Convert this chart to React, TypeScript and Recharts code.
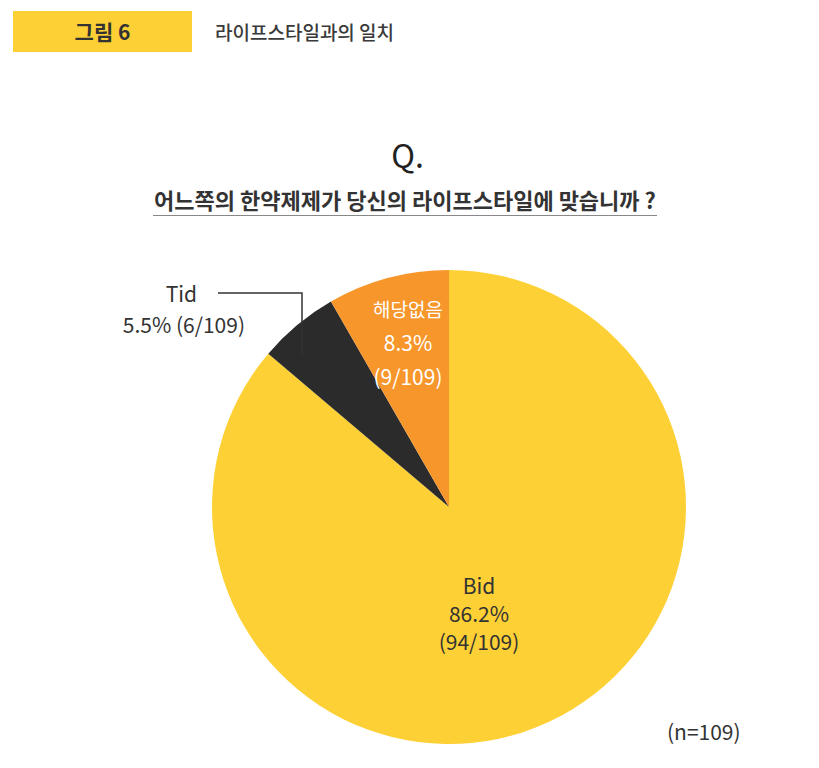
import { PieChart, Pie, Cell } from "recharts";

const categories = ["Bid", "Tid", "해당없음"];
const percents = [86.2, 5.5, 8.3];
const counts = [94, 6, 9];
const total = 109;
const colors = ["#FDD035", "#2B2B2B", "#F7962B"];

const data = categories.map((name, i) => ({
  name,
  value: percents[i],
  count: counts[i],
}));

const FONT = "'Noto Sans CJK KR', 'Noto Sans', sans-serif";
const LABEL_SIZE = 21;

// offsets of each label block relative to pie centre
const labelPos: Record<string, { dx: number; dy: number; fill: string; gap: number; nameSize: number }> = {
  Bid: { dx: 30, dy: 78, fill: "#333", gap: 28, nameSize: 21 },
  해당없음: { dx: -41, dy: -199, fill: "#fff", gap: 34, nameSize: 19 },
};

function renderLabel(props: any) {
  const { cx, cy, name, value, payload } = props;
  const count = payload?.count ?? payload?.payload?.count;
  if (name === "Tid") {
    return (
      <g>
        <polyline
          points={`${cx - 231},${cy - 214} ${cx - 147},${cy - 214} ${cx - 147},${cy - 152}`}
          fill="none"
          stroke="#333"
          strokeWidth={1.5}
        />
        <text x={cx - 252} y={cy - 214} textAnchor="end" dominantBaseline="central" fill="#333" fontSize={LABEL_SIZE} fontFamily={FONT}>
          {name}
        </text>
        <text x={cx - 204} y={cy - 183} textAnchor="end" dominantBaseline="central" fill="#333" fontSize={LABEL_SIZE} fontFamily={FONT}>
          {`${value}% (${count}/${total})`}
        </text>
      </g>
    );
  }
  const p = labelPos[name];
  const x = cx + p.dx;
  const y = cy + p.dy;
  return (
    <text x={x} y={y} textAnchor="middle" fill={p.fill} fontSize={LABEL_SIZE} fontFamily={FONT} dominantBaseline="central">
      <tspan x={x} dy={0} fontSize={p.nameSize}>{name}</tspan>
      <tspan x={x} dy={p.gap}>{`${value}%`}</tspan>
      <tspan x={x} dy={p.gap}>{`(${count}/${total})`}</tspan>
    </text>
  );
}

export default function App() {
  return (
    <div
      style={{
        position: "absolute",
        top: 0,
        left: 0,
        width: 819,
        height: 768,
        background: "#fff",
        fontFamily: FONT,
        overflow: "hidden",
      }}
    >
      <div
        style={{
          position: "absolute",
          left: 13,
          top: 11,
          width: 179,
          height: 41,
          background: "#FDD035",
          color: "#333",
          fontWeight: 700,
          fontSize: 21,
          lineHeight: "41px",
          textAlign: "center",
        }}
      >
        그림 6
      </div>
      <div style={{ position: "absolute", left: 215, top: 11, lineHeight: "41px", fontSize: 19, fontWeight: 500, color: "#3a3a3a" }}>
        라이프스타일과의 일치
      </div>
      <div
        style={{
          position: "absolute",
          left: 0,
          width: 819,
          top: 132,
          textAlign: "center",
          fontSize: 32,
          color: "#222",
          lineHeight: "44px",
        }}
      >
        <span style={{ marginLeft: -4 }}>Q.</span>
      </div>
      <div
        style={{
          position: "absolute",
          left: 153,
          top: 183,
          width: 504,
          textAlign: "center",
          fontSize: 22,
          fontWeight: 700,
          color: "#333",
          lineHeight: "32px",
          whiteSpace: "nowrap",
          borderBottom: "1.5px solid #888",
        }}
      >
        어느쪽의 한약제제가 당신의 라이프스타일에 맞습니까 ?
      </div>
      <div style={{ position: "absolute", left: 667, top: 716, fontSize: 21, color: "#333", lineHeight: "30px" }}>
        (n=109)
      </div>
      <div style={{ position: "absolute", left: 0, top: 0 }}>
        <PieChart width={819} height={768} margin={{ top: 0, right: 0, bottom: 0, left: 0 }}>
          <Pie
            data={data}
            dataKey="value"
            nameKey="name"
            cx={449}
            cy={507}
            outerRadius={237}
            startAngle={90}
            endAngle={-270}
            stroke="none"
            labelLine={false}
            label={renderLabel}
            isAnimationActive={false}
          >
            {data.map((d, i) => (
              <Cell key={d.name} fill={colors[i]} />
            ))}
          </Pie>
        </PieChart>
      </div>
    </div>
  );
}
